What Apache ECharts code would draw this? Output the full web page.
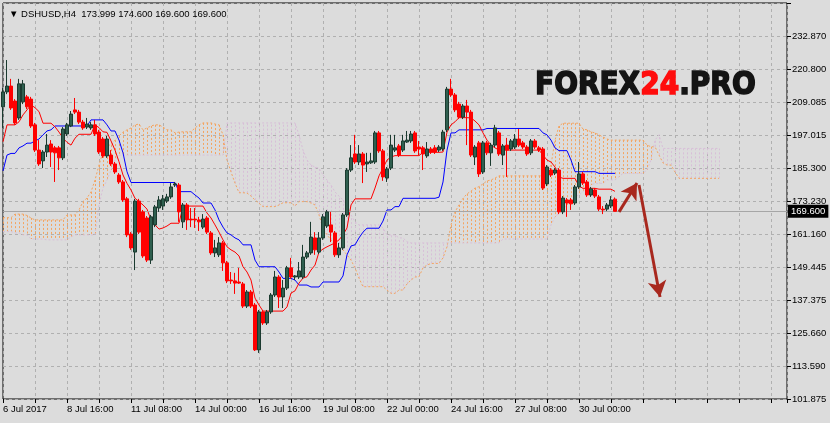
<!DOCTYPE html>
<html><head><meta charset="utf-8">
<script src="https://cdn.jsdelivr.net/npm/echarts/dist/echarts.min.js"></script>
<style>html,body{margin:0;padding:0;background:#dcdcdc;}#c{width:830px;height:423px;}</style>
</head><body><div id="c"></div>
<script>
const xLabels = ['6 Jul 2017','8 Jul 16:00','11 Jul 08:00','14 Jul 00:00','16 Jul 16:00','19 Jul 08:00','22 Jul 00:00','24 Jul 16:00','27 Jul 08:00','30 Jul 00:00'];
const yLabels = ['101.875','113.590','125.660','137.375','149.445','161.160','173.230','185.300','197.015','209.085','220.800','232.870'];
const headerText = '\u25BC DSHUSD,H4  173.999 174.600 169.600 169.600';
const lastPrice = 169.6;
// [open, close, low, high]
const ohlc = [
[207.3,212.7,199.7,214.1],[212.7,214.8,211.9,224.2],[214.8,206.9,206.2,217.4],[209.4,201.5,200.8,210.1],[203.3,215.6,202.6,217.4],
[209.1,215.6,208.3,217.0],[210.9,207.3,206.5,211.6],[210.1,200.4,199.7,210.9],[200.8,191.7,191.0,201.5],[191.7,186.7,186.0,195.3],
[187.8,191.0,185.2,191.7],[191.0,193.5,189.2,197.5],[193.9,191.0,185.6,195.3],[192.5,190.7,180.2,193.2],[192.5,188.9,184.5,193.2],
[188.9,199.3,188.1,200.0],[197.5,200.8,196.8,201.5],[200.4,204.7,200.0,205.8],[206.2,205.4,204.7,210.5],[205.4,201.8,201.1,206.2],
[201.8,199.7,199.0,202.6],[200.0,201.1,199.3,203.3],[199.7,200.8,199.0,201.8],[200.8,197.5,196.8,202.6],[198.2,191.0,190.3,199.0],
[195.7,189.6,188.9,196.4],[189.6,195.7,188.9,196.8],[189.9,186.7,186.0,191.7],[186.7,183.8,183.1,187.4],[182.7,180.2,179.5,183.4],
[180.2,173.7,173.0,180.9],[174.1,161.1,160.3,174.8],[161.4,156.4,155.7,162.1],[154.9,173.3,148.4,174.1],[173.3,162.1,161.4,174.1],
[169.4,153.5,152.8,170.1],[167.2,152.0,151.3,167.9],[152.0,167.6,150.6,168.3],[164.7,171.2,163.9,171.9],[170.8,173.7,169.4,175.1],
[171.5,174.1,170.1,175.5],[173.3,174.8,172.6,175.9],[174.8,178.4,174.1,179.8],[179.1,179.5,178.4,180.2],[179.1,169.4,165.8,179.8],
[165.8,171.9,163.6,172.6],[171.9,166.5,162.9,172.6],[166.8,166.5,163.9,170.8],[166.8,166.5,163.6,170.8],[166.5,165.8,162.5,167.6],
[163.9,166.8,163.2,168.6],[167.2,162.1,161.4,167.9],[161.8,154.6,153.9,162.5],[154.6,156.4,153.1,159.3],[153.9,158.2,153.1,160.3],
[158.2,151.0,148.1,158.9],[151.0,144.5,143.7,151.7],[144.8,144.5,143.4,147.7],[144.5,143.7,139.8,147.4],[144.1,143.7,143.4,149.2],
[143.4,135.4,134.7,144.1],[135.4,140.5,134.7,141.2],[140.5,135.4,134.7,141.2],[135.8,119.6,119.2,136.5],[119.6,133.3,118.5,134.0],
[133.3,129.3,128.6,134.0],[129.3,133.3,128.6,134.0],[133.3,139.4,132.6,140.1],[139.4,145.9,138.7,148.1],[145.9,138.7,134.7,146.6],
[138.7,141.9,134.7,144.8],[141.9,149.2,141.2,149.9],[149.2,145.9,145.2,152.8],[145.9,146.3,144.8,146.6],[145.9,148.1,145.2,151.3],
[145.9,153.1,145.2,157.5],[153.1,154.6,152.4,155.3],[154.6,160.3,153.9,165.8],[160.0,155.7,153.9,162.1],[154.9,160.0,154.2,162.1],
[160.0,167.6,159.3,168.6],[164.3,169.4,163.6,170.1],[164.7,162.1,158.5,169.4],[161.8,153.9,153.1,162.5],[153.9,156.4,152.8,158.2],
[156.4,168.3,155.7,169.0],[168.3,184.5,167.6,185.2],[184.5,188.9,183.8,193.5],[190.3,187.4,186.7,197.2],[187.4,190.3,186.3,193.5],
[190.3,186.3,179.8,191.0],[186.7,187.4,183.8,190.7],[187.1,187.8,186.7,190.7],[187.4,197.9,186.7,198.6],[197.9,191.4,190.7,198.6],
[191.4,182.0,180.6,192.1],[181.6,184.9,180.2,185.6],[185.2,193.5,184.5,197.2],[191.7,192.5,191.0,197.2],[193.2,189.9,189.2,193.9],
[191.7,195.0,191.0,197.2],[194.6,195.3,194.3,198.6],[195.0,197.5,194.3,198.6],[197.9,191.4,190.7,198.6],[192.8,192.1,189.9,195.0],
[192.5,190.3,184.5,193.2],[189.6,192.1,188.9,194.6],[192.1,191.0,190.3,192.8],[192.5,191.0,190.3,193.5],[191.7,192.8,191.0,193.5],
[192.1,198.2,191.4,199.0],[199.0,213.7,198.2,214.5],[213.7,211.6,210.9,217.4],[211.6,206.2,205.4,212.3],[208.3,203.6,202.9,209.1],
[203.6,207.6,202.9,208.3],[207.6,205.4,193.5,209.8],[205.4,189.9,189.2,206.2],[189.2,192.8,186.3,193.5],[194.3,183.1,182.0,195.0],
[183.8,194.3,183.1,195.0],[194.3,190.7,189.9,195.0],[190.7,193.5,186.0,194.3],[193.5,199.7,192.8,200.8],[197.9,190.3,189.6,198.6],
[189.9,193.2,186.3,193.9],[193.5,191.7,182.0,196.1],[192.1,195.0,191.4,195.7],[192.8,195.7,192.1,197.5],[195.7,193.5,192.8,199.3],
[194.3,192.8,192.1,195.0],[192.8,190.3,189.6,193.5],[190.7,195.0,189.9,195.7],[195.0,192.8,192.1,195.7],[192.5,191.7,191.0,193.2],
[192.1,178.0,177.3,192.8],[179.5,185.6,178.7,186.3],[184.5,182.7,182.0,185.2],[183.4,184.5,182.7,185.2],[184.5,169.4,168.6,185.2],
[169.4,174.4,168.6,175.1],[173.7,172.6,167.6,174.4],[173.7,172.3,170.1,174.4],[172.6,178.4,171.9,179.1],[178.4,183.1,177.7,187.4],
[183.1,179.8,179.1,183.8],[180.2,175.5,174.8,180.9],[175.5,177.7,174.8,178.4],[177.3,175.1,174.4,178.0],[174.8,170.4,169.7,175.5],
[170.4,170.1,168.6,171.5],[170.4,171.9,169.7,172.6],[171.5,173.7,170.8,175.1],[173.999,169.6,169.6,174.6]
];
const tenkan = [
194.7,200.8,200.8,200.8,201.9,204.4,206.2,208.0,207.0,205.6,
201.4,201.4,201.4,200.1,198.2,196.0,194.5,193.5,196.0,197.4,
197.4,197.4,197.4,200.8,199.8,198.3,198.1,195.0,191.7,187.5,
182.7,179.7,177.3,174.3,173.1,171.9,170.4,166.5,164.7,163.2,
163.6,164.3,165.3,165.3,165.3,171.5,171.5,171.5,171.5,171.5,
171.5,169.0,167.2,164.7,162.1,159.3,156.8,155.7,154.9,153.5,
149.6,147.7,144.8,138.3,135.8,133.6,133.6,133.6,133.6,133.6,
133.6,135.1,140.1,140.9,143.7,145.5,146.0,148.4,150.2,154.9,
156.0,156.8,157.5,158.2,159.3,161.1,163.6,171.9,174.1,174.1,
174.1,174.1,174.1,178.0,182.4,185.2,188.1,189.2,189.7,189.7,
189.7,189.7,189.7,189.7,189.7,190.9,190.9,190.9,190.9,190.9,
191.0,198.2,200.8,201.9,203.4,203.4,203.4,203.3,202.2,200.8,
197.9,195.3,193.5,192.5,191.7,191.7,191.7,191.7,191.7,191.7,
191.7,191.7,191.7,191.7,191.7,189.9,188.1,187.4,185.6,182.0,
181.5,181.5,181.5,181.5,178.7,177.9,177.9,177.9,177.9,177.6,
177.6,177.6,177.6,176.8];
const kijun = [
184.2,189.9,190.5,190.5,192.5,193.2,194.2,194.2,195.0,195.7,
197.2,198.6,199.0,200.4,200.4,200.4,200.4,200.4,200.4,200.4,
200.4,200.4,202.6,202.6,202.6,202.6,200.8,198.6,198.6,195.3,
190.7,183.9,180.0,180.0,180.0,180.0,180.0,180.0,180.0,180.0,
180.0,180.0,180.0,180.0,176.7,176.7,176.7,176.7,175.5,174.4,
172.6,172.6,172.6,170.1,166.5,163.9,161.8,161.1,160.0,159.3,
157.5,157.5,157.5,152.0,149.6,149.6,149.6,149.6,149.6,147.7,
145.4,145.4,145.4,144.8,143.0,143.0,143.0,142.3,142.3,142.3,
144.1,144.1,144.1,144.1,144.1,146.3,153.9,157.1,157.5,160.0,
162.1,163.5,163.5,163.5,163.5,166.1,170.1,170.1,171.3,171.3,
174.3,174.3,174.3,174.3,174.3,174.3,174.3,174.3,174.3,174.7,
180.2,191.7,197.9,197.9,199.0,199.0,199.0,199.0,199.0,199.0,
199.0,199.5,199.5,199.5,199.5,199.5,199.5,199.5,199.5,199.5,
199.5,199.5,199.5,199.5,199.5,197.9,197.2,195.3,192.5,191.5,
191.5,191.5,188.1,183.9,183.9,183.9,183.9,183.9,183.9,183.3,
183.3,183.3,183.3,183.3];
const spanA = [
167.3,167.3,167.3,168.6,168.6,168.6,168.1,167.2,166.5,166.5,
166.5,166.5,166.5,166.5,166.5,166.5,168.3,168.3,168.3,170.1,
173.1,174.4,176.6,180.9,186.3,191.0,193.5,193.5,195.3,196.8,
198.2,199.0,199.7,200.8,201.1,199.0,199.7,200.4,200.8,200.8,
200.0,199.0,199.0,197.9,198.2,198.3,198.3,198.3,199.7,200.8,
201.5,201.5,201.5,201.1,200.8,197.2,188.1,183.8,179.8,176.3,
176.3,176.2,175.1,173.7,172.5,171.3,171.3,171.3,171.3,171.9,
172.7,172.7,172.7,171.5,173.1,173.1,173.1,172.6,171.9,168.3,
163.6,161.1,159.3,157.5,156.4,155.7,153.9,152.0,149.2,145.5,
142.4,142.4,142.4,142.4,142.4,142.4,141.2,140.0,140.0,141.2,
141.2,143.4,144.8,145.9,146.0,149.2,150.2,150.8,150.8,150.8,
152.8,156.8,164.7,169.4,171.9,174.3,175.9,176.9,178.0,178.5,
179.5,180.6,180.9,181.6,182.4,182.4,182.4,182.4,182.4,182.4,
182.4,182.4,182.4,182.4,182.4,182.4,183.8,186.3,195.3,200.4,
201.4,201.4,201.4,201.4,201.4,199.3,199.0,198.3,197.9,197.2,
196.4,195.7,195.3,195.3,195.3,195.3,195.3,195.3,195.3,195.3,
195.3,193.5,192.9,192.9,189.9,187.1,186.3,186.3,183.8,181.5,
181.5,181.5,181.5,181.5,181.5,181.5,181.5,181.5,181.5,181.5];
const spanB = [
162.3,162.3,162.3,161.8,161.8,161.1,161.1,159.6,159.6,159.6,
159.6,159.3,159.3,159.3,159.3,159.3,159.3,160.4,161.1,161.1,
161.1,161.1,161.1,161.1,171.9,178.0,180.9,184.5,188.1,189.9,
189.9,189.9,189.9,189.9,189.9,189.9,189.9,189.9,189.9,189.9,
189.9,189.9,189.9,189.9,189.9,189.9,189.9,189.9,189.9,189.9,
189.9,189.9,189.9,189.9,189.9,189.9,201.5,201.5,201.5,201.5,
201.5,201.5,201.5,201.5,201.5,201.5,201.5,201.5,201.5,201.5,
201.5,201.5,201.5,201.5,197.2,191.7,188.1,186.3,185.6,185.2,
182.7,180.9,179.1,176.6,175.1,173.7,170.8,168.3,165.8,164.7,
164.7,164.7,164.7,164.7,164.7,163.6,161.1,161.1,161.1,160.0,
160.0,158.6,158.2,158.2,158.2,158.2,158.2,158.2,158.2,158.2,
158.2,158.2,158.2,158.2,158.2,158.2,158.2,158.2,158.2,158.2,
158.2,158.2,158.2,158.2,158.2,159.6,159.6,159.6,159.6,159.6,
159.6,159.6,159.6,159.6,159.6,159.6,159.6,164.7,167.6,168.9,
170.1,171.9,173.7,174.9,175.5,176.7,178.0,179.1,179.7,179.7,
179.7,180.9,180.9,180.9,182.1,183.3,183.3,183.3,183.3,183.3,
183.3,184.5,188.1,195.3,197.2,192.3,192.3,192.3,192.3,192.3,
192.3,192.3,192.3,192.3,192.3,192.3,192.3,192.3,192.3,192.3];
// forecast arrows: [barIndex, price] start/end
const arrowUp = [[154,169.4],[158.5,179.8]];
const arrowDown = [[159,179.1],[164.25,138.7]];

const FONT = 'Liberation Sans';
const chart = echarts.init(document.getElementById('c'), null, {renderer:'canvas'});
const option = {
  animation: false,
  backgroundColor: '#dcdcdc',
  title: {text: headerText, left: 4, top: 4, textStyle: {fontSize: 9.5, fontWeight: 'normal', color: '#000', fontFamily: FONT}},
  grid: {left: 3, right: 43, top: 3, bottom: 24, show: true, borderColor: '#000', borderWidth: 1, backgroundColor: 'transparent'},
  xAxis: {
    type: 'value', min: 0, max: 196, interval: 8,
    axisLine: {show: false},
    axisTick: {show: true, length: 4, lineStyle: {color: '#000'}},
    axisLabel: {
      margin: 5, align: 'left', color: '#000', fontSize: 9.5, fontFamily: FONT,
      formatter: v => (v % 16 === 0 && xLabels[v / 16] !== undefined) ? xLabels[v / 16] : ''
    },
    splitLine: {show: true, lineStyle: {color: '#b0b0b0', type: [3, 3], width: 1}}
  },
  yAxis: [
    {type: 'value', min: 101.875, max: 244.779, show: false, splitLine: {show: false}},
    {type: 'value', position: 'right', min: 0, max: 12, interval: 1,
     axisLine: {show: false},
     axisTick: {show: true, length: 4, lineStyle: {color: '#000'}},
     axisLabel: {margin: 5, color: '#000', fontSize: 9.5, fontFamily: FONT, formatter: v => yLabels[v] || ''},
     splitLine: {show: true, lineStyle: {color: '#b0b0b0', type: [3, 3], width: 1}}}
  ],
  graphic: [{
    type: 'text', x: 535, y: 86, scaleY: 1.15, z: 100,
    style: {
      text: '{a|FOREX}{b|24}{a|.PRO}', verticalAlign: 'middle', align: 'left',
      rich: {
        a: {fill: '#141414', stroke: '#141414', lineWidth: 1.4, fontSize: 28, fontWeight: 'bold', fontFamily: 'DejaVu Sans'},
        b: {fill: '#ff0d0d', stroke: '#ff0d0d', lineWidth: 1.4, fontSize: 28, fontWeight: 'bold', fontFamily: 'DejaVu Sans'}
      }
    }
  }],
  series: [
    {
      type: 'custom', name: 'cloud', xAxisIndex: 0, yAxisIndex: 0, z: 1, silent: true,
      data: spanA.map((a, i) => [i, a, spanB[i]]),
      encode: {x: 0, y: [1, 2]},
      renderItem: (params, api) => {
        const i = api.value(0), a = api.value(1), b = api.value(2);
        const pa = api.coord([i, a]), pb = api.coord([i, b]);
        const x = Math.round(pa[0]) + 0.5;
        return {type: 'line', shape: {x1: x, y1: pa[1], x2: x, y2: pb[1]},
          style: {stroke: a >= b ? '#f4a460' : '#d8bfd8', lineWidth: 1, lineDash: [2, 2]}};
      }
    },
    {type: 'line', name: 'Senkou A', z: 2, symbol: 'none', silent: true,
     data: spanA.map((v, i) => [i, v]), lineStyle: {color: '#f4a460', width: 1, type: [2, 2]}},
    {type: 'line', name: 'Senkou B', z: 2, symbol: 'none', silent: true,
     data: spanB.map((v, i) => [i, v]), lineStyle: {color: '#d8bfd8', width: 1, type: [2, 2]}},
    {type: 'line', name: 'Kijun', z: 3, symbol: 'none', silent: true,
     data: kijun.map((v, i) => [i, v]), lineStyle: {color: '#0000ff', width: 1}},
    {type: 'line', name: 'Tenkan', z: 3, symbol: 'none', silent: true,
     data: tenkan.map((v, i) => [i, v]), lineStyle: {color: '#ff0000', width: 1}},
    {
      type: 'candlestick', name: 'DSHUSD', z: 5, silent: true,
      data: ohlc.map((d, i) => [i, d[0], d[1], d[2], d[3]]),
      encode: {x: 0, y: [1, 2, 3, 4]},
      barWidth: 3,
      itemStyle: {color: '#2f5f4f', color0: '#ff0000', borderColor: '#1b3a2f', borderColor0: '#ff0000', borderWidth: 1},
      markLine: {
        silent: true, symbol: 'none', z: 4,
        lineStyle: {color: '#a6a6a6', type: 'solid', width: 1},
        label: {show: true, position: 'end', distance: 1, formatter: lastPrice.toFixed(3),
          backgroundColor: '#000', color: '#fff', padding: [2, 3, 1, 3], fontSize: 9.5, fontFamily: FONT},
        data: [{yAxis: lastPrice}]
      }
    },
    {
      type: 'line', name: 'arrows', data: [], z: 6, silent: true,
      markLine: {
        silent: true, symbol: ['none', 'arrow'], symbolSize: [14, 16],
        lineStyle: {color: '#a8281e', width: 3, type: 'solid'},
        label: {show: false},
        data: [
          [{coord: arrowUp[0]}, {coord: arrowUp[1]}],
          [{coord: arrowDown[0]}, {coord: arrowDown[1]}]
        ]
      }
    }
  ]
};
chart.setOption(option);
</script>
</body></html>
